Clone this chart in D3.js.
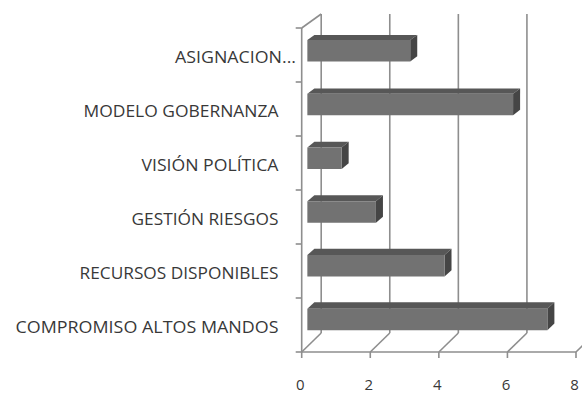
<!DOCTYPE html>
<html>
<head>
<meta charset="utf-8">
<script src="https://cdn.jsdelivr.net/npm/d3@7"></script>
<style>
  html, body { margin: 0; padding: 0; background: #ffffff; }
  svg { display: block; }
</style>
</head>
<body>
<svg id="chart" width="582" height="394"></svg>
<script>
// ---- data ----
const categories = ["ASIGNACION...", "MODELO GOBERNANZA", "VISIÓN POLÍTICA", "GESTIÓN RIESGOS", "RECURSOS DISPONIBLES", "COMPROMISO ALTOS MANDOS"];
const values = [3, 6, 1, 2, 4, 7];
const xTicks = [0, 2, 4, 6, 8];
// measured label widths (px) to mimic the original typeface
const labelWidths = [121, 195, 137, 147, 199, 263];

// ---- layout ----
const svg = d3.select("#chart");
const frontTop = 28, frontBottom = 352;
const backTop = 14, backBottom = 333;
const DX = 19.5;            // depth shift in x
const f0 = 0.29, f1 = 0.65; // bar depth (fraction of wall depth)

const x = d3.scaleLinear().domain([0, 8]).range([301.7, 576]);
const y = d3.scaleBand().domain(categories).range([frontTop, frontBottom])
  .paddingInner(0.6).paddingOuter(0.3);
const yBack = d3.scaleLinear().domain([frontTop, frontBottom]).range([backTop, backBottom]);

function P(v, yf, f) {
  const yb = yBack(yf);
  return [x(v) + f * DX, yf + f * (yb - yf)];
}

const grid = "#8e8e8e";
const gLines = svg.append("g").attr("stroke", grid).attr("stroke-width", 1.6).attr("fill", "none");

// back wall gridlines
xTicks.forEach(v => {
  const a = P(v, frontTop, 1), b = P(v, frontBottom, 1);
  gLines.append("line").attr("x1", a[0]).attr("y1", a[1]).attr("x2", b[0]).attr("y2", b[1]);
});
// floor diagonals
xTicks.forEach(v => {
  const a = P(v, frontBottom, 0), b = P(v, frontBottom, 1);
  gLines.append("line").attr("x1", a[0]).attr("y1", a[1]).attr("x2", b[0]).attr("y2", b[1]);
});
// side wall: top diagonal and front vertical
{
  const a = P(0, frontTop, 0), b = P(0, frontTop, 1), c = P(0, frontBottom, 0);
  gLines.append("line").attr("x1", a[0]).attr("y1", a[1]).attr("x2", b[0]).attr("y2", b[1]);
  gLines.append("line").attr("x1", a[0]).attr("y1", a[1]).attr("x2", c[0]).attr("y2", c[1]);
}
// front baseline
{
  const a = P(0, frontBottom, 0), b = P(8, frontBottom, 0);
  gLines.append("line").attr("x1", a[0]).attr("y1", a[1]).attr("x2", b[0]).attr("y2", b[1]);
}
// x ticks
xTicks.forEach(v => {
  gLines.append("line").attr("x1", x(v)).attr("y1", frontBottom).attr("x2", x(v)).attr("y2", frontBottom + 6);
});
// category ticks
const step = y.step();
for (let k = 0; k <= categories.length; k++) {
  const yy = frontTop + k * step;
  gLines.append("line").attr("x1", x(0) - 6).attr("y1", yy).attr("x2", x(0)).attr("y2", yy);
}

// bars
const gBars = svg.append("g");
const pts = arr => arr.map(p => p.join(",")).join(" ");
categories.forEach((c, i) => {
  const v = values[i];
  const yt = y(c), yb = y(c) + y.bandwidth();
  const ftl = P(0, yt, f0), ftr = P(v, yt, f0), fbr = P(v, yb, f0), fbl = P(0, yb, f0);
  const btl = P(0, yt, f1), btr = P(v, yt, f1), bbr = P(v, yb, f1);
  gBars.append("polygon").attr("points", pts([ftl, ftr, btr, btl])).attr("fill", "#575757");
  gBars.append("polygon").attr("points", pts([ftr, btr, bbr, fbr])).attr("fill", "#454545");
  gBars.append("polygon").attr("points", pts([ftl, ftr, fbr, fbl])).attr("fill", "#727272");
});

// category labels
const gLab = svg.append("g").attr("font-family", "'Open Sans', sans-serif").attr("font-size", 15.5).attr("fill", "#383838");
categories.forEach((c, i) => {
  const cy = y(c) + y.bandwidth() / 2;
  const rightEdge = i === 0 ? 296 : 278.5;
  gLab.append("text")
    .attr("x", rightEdge - labelWidths[i])
    .attr("y", cy + 8)
    .attr("textLength", labelWidths[i])
    .attr("lengthAdjust", "spacingAndGlyphs")
    .text(c);
});

// x tick labels
const gX = svg.append("g").attr("font-family", "'Open Sans', sans-serif").attr("font-size", 15).attr("fill", "#383838").attr("text-anchor", "middle");
xTicks.forEach(v => {
  gX.append("text").attr("x", x(v) - 1.5).attr("y", 389.5).text(v);
});
</script>
</body>
</html>
